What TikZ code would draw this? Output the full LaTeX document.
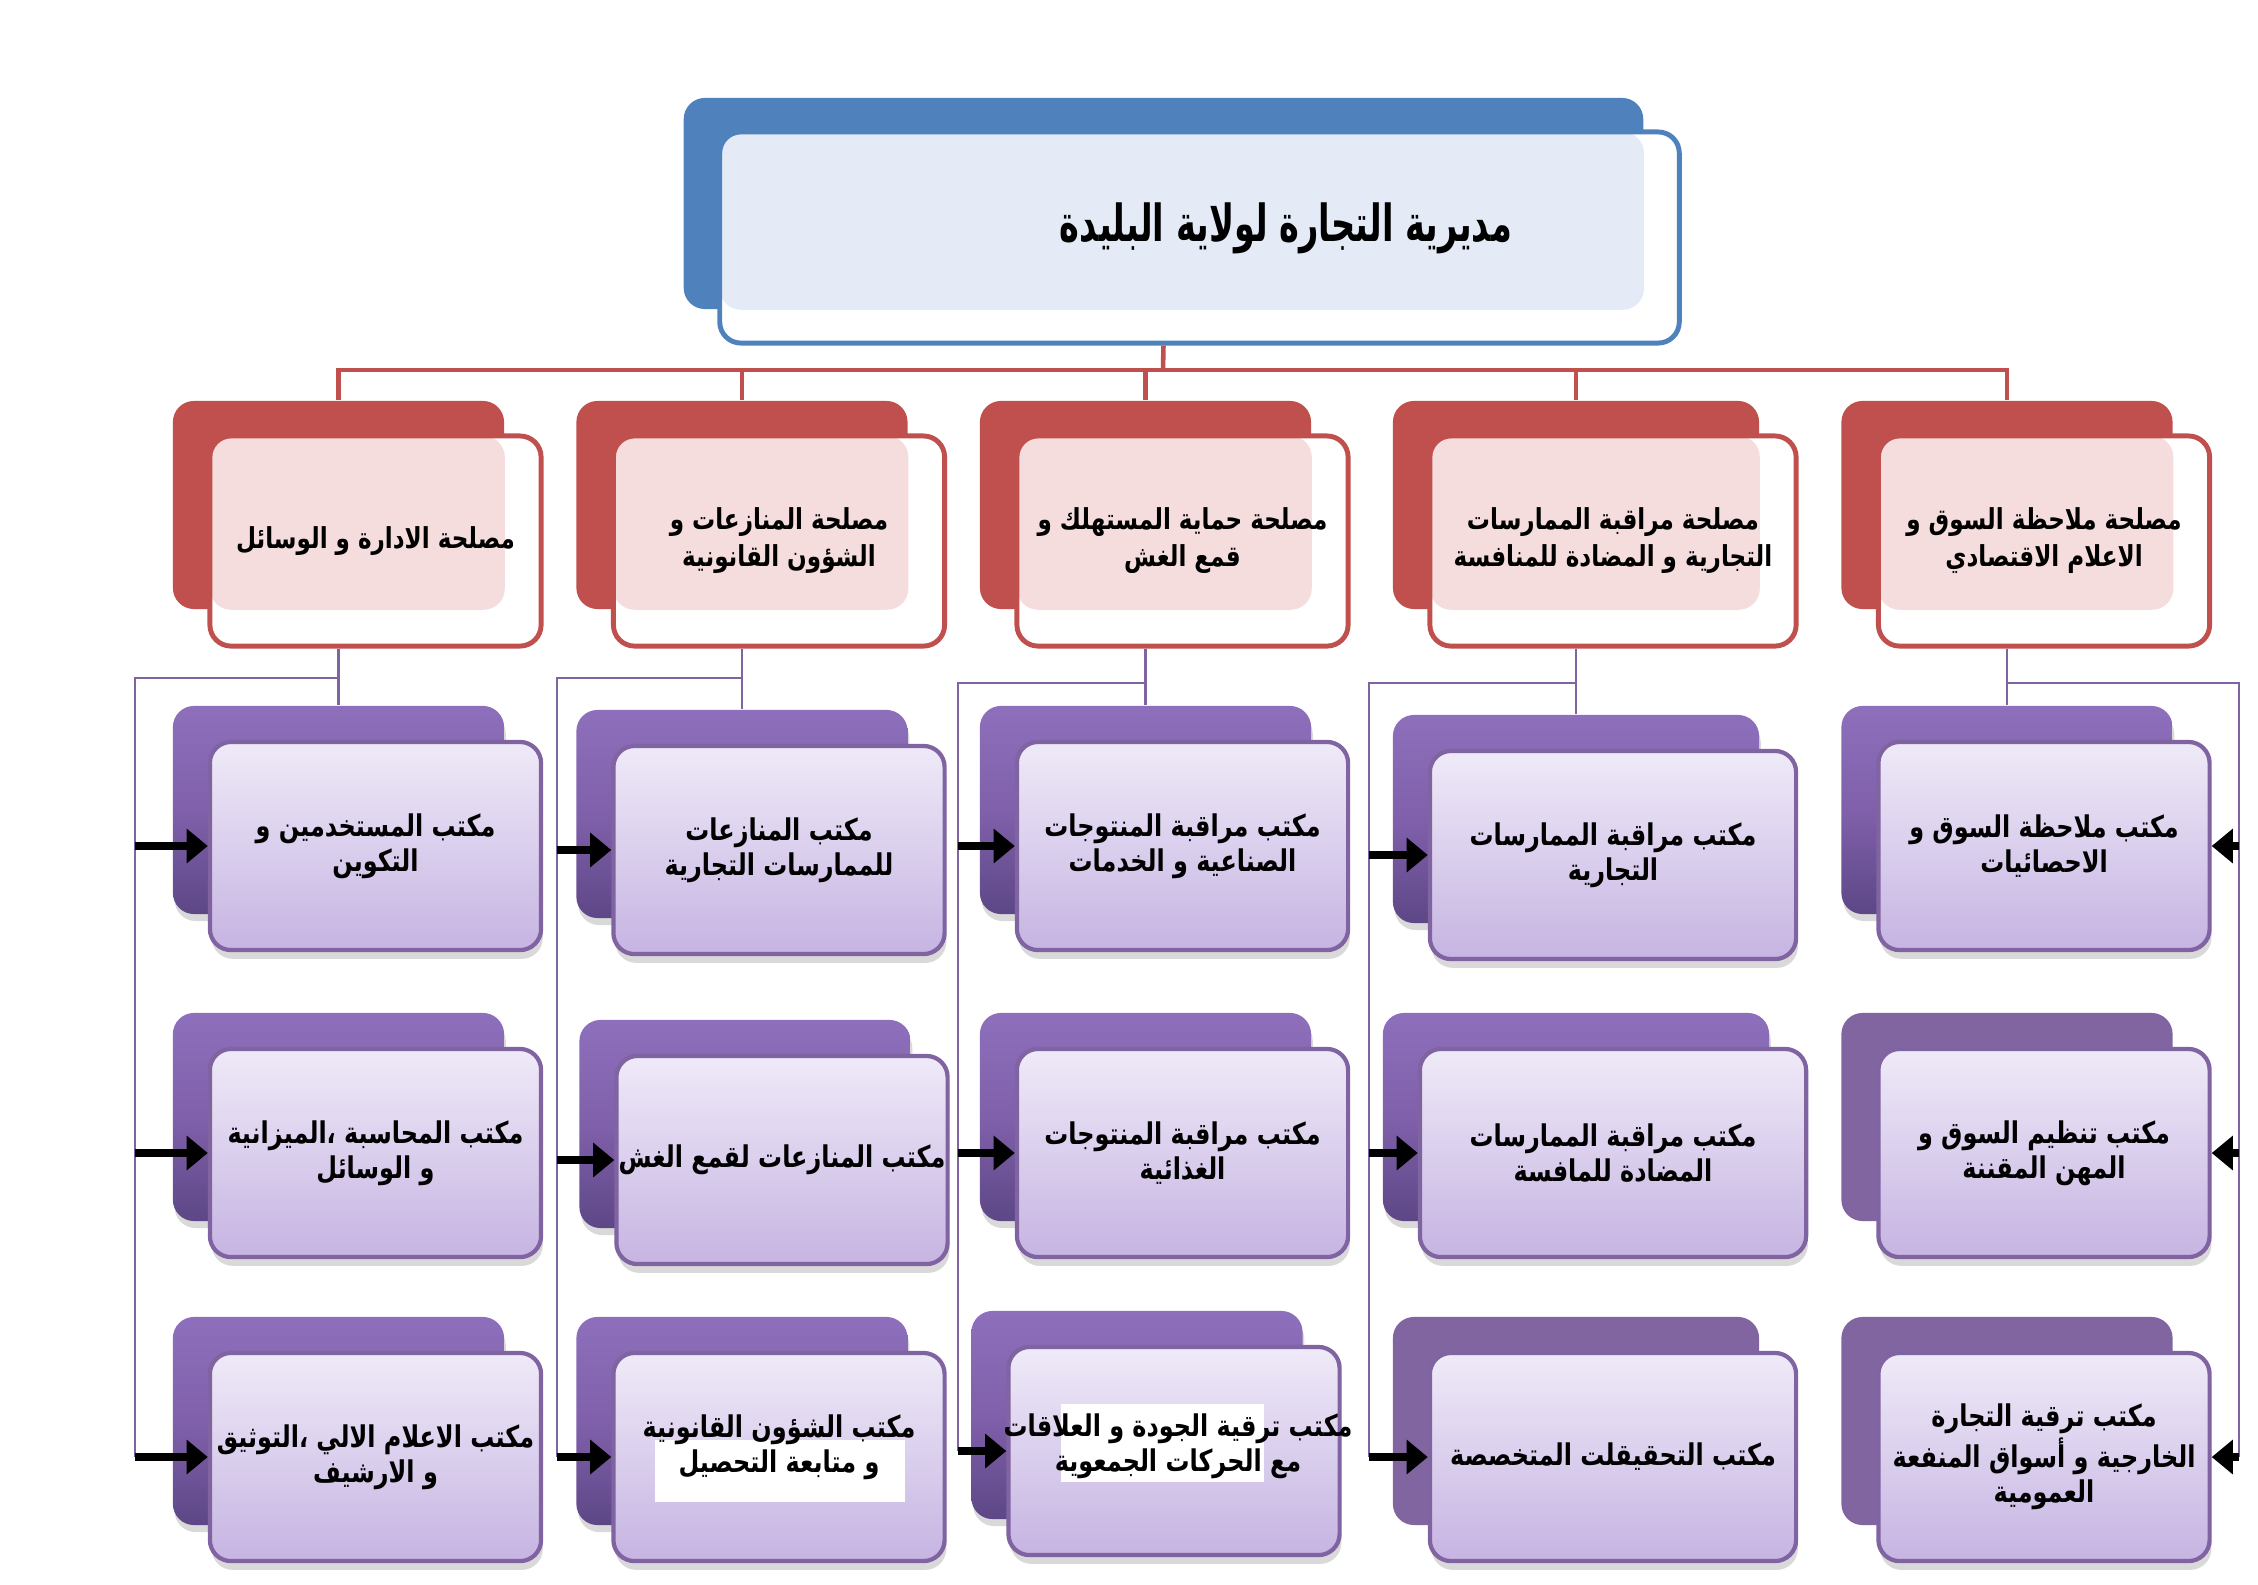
\documentclass[tikz,border=0pt]{standalone}
\usepackage{fontspec}
\newfontfamily\arabicfont[Script=Arabic,FakeStretch=0.8]{DejaVu Sans}
\newfontfamily\titlefont[Script=Arabic,FakeStretch=0.66]{DejaVu Sans}
\TeXXeTstate=1
\usetikzlibrary{arrows.meta,shadows}
\definecolor{redc}{HTML}{C0504D}
\definecolor{redpat}{HTML}{F5DDDD}
\definecolor{bluec}{HTML}{4F81BD}
\definecolor{bluepat}{HTML}{E4EBF6}
\definecolor{purpc}{HTML}{8064A2}
\definecolor{pbtop}{HTML}{8D6FBB}
\definecolor{pbmid}{HTML}{8060AB}
\definecolor{pbbot}{HTML}{5D4786}
\definecolor{pflat}{HTML}{8065A0}
\definecolor{pftop}{HTML}{EFEAF8}
\definecolor{pfbot}{HTML}{C6B4E2}
\newcommand\rl[1]{\beginR#1\endR}
\newcommand\stext{\arabicfont\bfseries\fontsize{8.2}{10.5}\selectfont}
\newcommand\otext{\arabicfont\bfseries\fontsize{8.5}{10}\selectfont}
% service: name, x, y, text (front centre)
\newcommand\service[5][]{%
  \node[sback,#1] (#2b) at (#3,#4) [xshift=-.37cm,yshift=.36cm] {};
  \node[sfront=#2b,#1] (#2) at (#3,#4) {#5};}
% office: back style, name, x, y, text
\newcommand\office[6][]{%
  \node[#2,#1] (#3b) at (#4,#5) [xshift=-.37cm,yshift=.36cm] {};
  \node[pfront,#1] (#3) at (#4,#5) {#6};}

\begin{document}
\begin{tikzpicture}[x=0.01cm,y=-0.01cm,
  dback/.style={fill=bluec,rounded corners=6pt,minimum width=9.59cm,minimum height=2.11cm,inner sep=0pt},
  dfront/.style={fill=white,draw=bluec,line width=1.4pt,rounded corners=6pt,minimum width=9.59cm,minimum height=2.11cm,inner sep=0pt,
    path picture={\fill[bluepat] (path picture bounding box.north west) rectangle (#1.south east);}},
  sback/.style={fill=redc,rounded corners=6pt,minimum width=3.31cm,minimum height=2.08cm,inner sep=0pt},
  sfront/.style={fill=white,draw=redc,line width=1.4pt,rounded corners=6pt,minimum width=3.31cm,minimum height=2.1cm,inner sep=0pt,align=center,font=\stext,
    path picture={\fill[redpat] (path picture bounding box.north west) rectangle (#1.south east);}},
  pback/.style={top color=pbtop,bottom color=pbbot,middle color=pbmid,rounded corners=6pt,minimum width=3.31cm,minimum height=2.08cm,inner sep=0pt,
    drop shadow={shadow xshift=.5pt,shadow yshift=-2pt,opacity=.3}},
  pflatback/.style={fill=pflat,rounded corners=6pt,minimum width=3.31cm,minimum height=2.08cm,inner sep=0pt},
  pfront/.style={top color=pftop,bottom color=pfbot,draw=purpc,line width=1.2pt,rounded corners=6pt,minimum width=3.31cm,minimum height=2.08cm,inner sep=0pt,align=center,font=\otext,
    drop shadow={shadow xshift=.5pt,shadow yshift=-2.5pt,opacity=.3}},
  wide/.style={minimum width=3.66cm},
  busline/.style={redc,line width=1.3pt},
  pline/.style={purpc,line width=.8pt},
  arr/.style={-{Triangle[length=6pt,width=9.5pt]},line width=2.5pt,black}]
\useasboundingbox (0,0) rectangle (2258,1584);

% directorate
\node[dback] (dirb) at (1199.5,237.5) [xshift=-.36cm,yshift=.34cm] {};
\node[dfront=dirb] (dir) at (1199.5,237.5) {};
\node[font=\titlefont\bfseries\fontsize{14.5}{17}\selectfont] (dirname) at (1286,228) {\rl{مديرية التجارة لولاية البليدة}};

% services
\service{s1}{375.5}{541}{\rl{مصلحة الادارة و الوسائل}}
\service{s2}{779}{541}{\rl{مصلحة المنازعات و}\\\rl{الشؤون القانونية}}
\service{s3}{1182.5}{541}{\rl{مصلحة حماية المستهلك و}\\\rl{قمع الغش}}
\service[wide]{s4}{1613}{541}{\rl{مصلحة مراقبة الممارسات}\\\rl{التجارية و المضادة للمنافسة}}
\service{s5}{2044}{541}{\rl{مصلحة ملاحظة السوق و}\\\rl{الاعلام الاقتصادي}}

% offices
\office{pback}{o11}{375.5}{846}{\rl{مكتب المستخدمين و}\\\rl{التكوين}}
\office{pback}{o12}{375.5}{1153}{\rl{مكتب المحاسبة ،الميزانية}\\\rl{و الوسائل}}
\office{pback}{o13}{375.5}{1457}{\rl{مكتب الاعلام الالي ،التوثيق}\\\rl{و الارشيف}}
\office{pback}{o21}{779}{850}{\rl{مكتب المنازعات}\\\rl{للممارسات التجارية}}
\office{pback}{o22}{782}{1160}{\rl{مكتب المنازعات لقمع الغش}}
\office{pback}{o23}{779}{1457}{}
\fill[white] (655,1440) rectangle (905,1502);
\node[font=\otext,align=center] (o23t) at (779,1447) {\rl{مكتب الشؤون القانونية}\\\rl{و متابعة التحصيل}};
\office{pback}{o31}{1182.5}{846}{\rl{مكتب مراقبة المنتوجات}\\\rl{الصناعية و الخدمات}}
\office{pback}{o32}{1182.5}{1153}{\rl{مكتب مراقبة المنتوجات}\\\rl{الغذائية}}
\office{pback}{o33}{1174}{1451}{}
\fill[white] (1061,1404) rectangle (1264,1482);
\node[font=\otext,align=center] (o33t) at (1178,1446) {\rl{مكتب ترقية الجودة و العلاقات}\\\rl{مع الحركات الجمعوية}};
\office[wide]{pback}{o41}{1613}{855}{\rl{مكتب مراقبة الممارسات}\\\rl{التجارية}}
\office[minimum width=3.86cm]{pback}{o42}{1613}{1153}{\rl{مكتب مراقبة الممارسات}\\\rl{المضادة للمافسة}}
\office[wide]{pflatback}{o43}{1613}{1457}{\rl{مكتب  التحقيقلت المتخصصة}}
\office{pback}{o51}{2044}{846}{\rl{مكتب ملاحظة السوق و}\\\rl{الاحصائيات}}
\office{pflatback}{o52}{2044}{1153}{\rl{مكتب تنظيم السوق و}\\\rl{المهن المقننة}}
\office{pflatback}{o53}{2044}{1457}{\rl{مكتب ترقية التجارة}\\\rl{الخارجية و أسواق المنفعة}\\\rl{العمومية}}

% red bus
\coordinate (bus) at (1163,370);
\draw[busline] (dir.south -| dirb.south) -- (bus);
\draw[busline] (s1b.north) -- (s1b.north |- bus) -- (s5b.north |- bus) -- (s5b.north);
\foreach \n in {2,3,4} \draw[busline] (bus -| s\n b.north) -- (s\n b.north);

% purple branches
\coordinate (h1) at (135,678);
\coordinate (h2) at (557,678);
\coordinate (h3) at (958,683);
\coordinate (h4) at (1369,683);
\coordinate (h5) at (2239,683);
\foreach \n in {1,...,5} \draw[pline] (s\n.south -| o\n1b.north) -- (o\n1b.north);
\foreach \n in {1,...,4}{
  \draw[pline] (h\n -| o\n1b.north) -- (h\n) -- (h\n |- o\n3.west);
  \foreach \r in {1,2,3} \draw[arr] (h\n |- o\n\r.west) -- (o\n\r.west);
}
\draw[pline] (h5 -| o51b.north) -- (h5) -- (h5 |- o53.east);
\foreach \r in {1,2,3} \draw[arr] (h5 |- o5\r.east) -- (o5\r.east);
\end{tikzpicture}
\end{document}
